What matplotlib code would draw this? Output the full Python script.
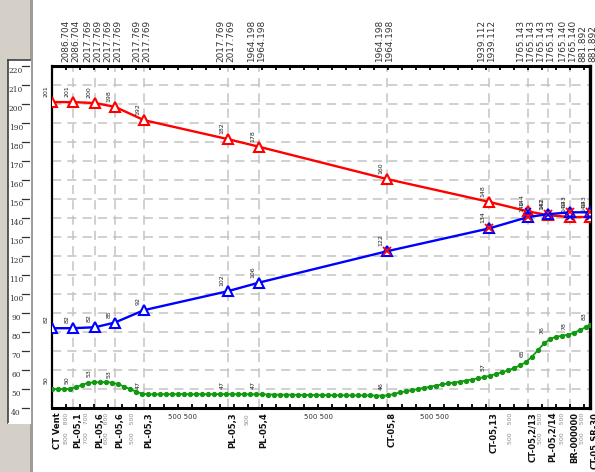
import matplotlib
matplotlib.use("Agg")
import matplotlib.pyplot as plt
import matplotlib.transforms as mtransforms
from matplotlib.ticker import MultipleLocator, NullLocator
from matplotlib.patches import Rectangle

# ---------------- data ----------------
stations_x = [0, 21, 43, 63, 92, 176, 207, 335, 437, 476, 496, 518, 538]
red_vals = [201, 201, 200.5, 198.5, 191.5, 181.5, 177.5, 160.5, 148.5, 143.5, 141.5, 140.5, 140.5]
blue_vals = [82, 82, 82.5, 85, 91.5, 101.5, 106, 122.5, 134.5, 140.5, 142, 143, 143]
green_station_labels = ["50", "50", "53", "53", "47", "47", "47", "46", "57", "65", "76", "78", "83"]

green_x = list(range(0, 535, 6)) + [538]
green_vals = [
    50.0, 50.0, 50.0, 50.1, 51.0, 52.2, 53.2, 53.5, 53.6, 53.6, 53.4, 52.6, 51.3, 49.9, 48.6, 47.6, 47.2,
    47.2, 47.2, 47.3, 47.2, 47.3, 47.3, 47.2, 47.3, 47.3, 47.2, 47.3, 47.3, 47.3, 47.3, 47.2, 47.3, 47.2,
    47.2, 47.2, 47.1, 47.1, 47.0, 47.0, 47.0, 46.9, 46.9, 46.9, 46.8, 46.8, 46.8, 46.7, 46.7, 46.7, 46.6,
    46.6, 46.6, 46.6, 46.5, 46.5,
    46.6, 47.4, 48.2, 48.8, 49.4, 50.0, 50.6, 51.2, 51.8, 52.4, 52.9, 53.4, 53.9, 54.4, 55.0, 55.6, 56.3,
    57.0, 57.9, 58.8, 59.8, 61.0, 62.4, 64.2, 67.0, 70.5, 74.0, 76.3, 77.5, 78.0, 78.6, 79.6, 81.0, 82.6,
    83.8,
]

top_labels = [
    None,
    ("2086.704", "2086.704"),
    ("2017.769", "2017.769"),
    ("2017.769", "2017.769"),
    ("2017.769", "2017.769"),
    ("2017.769", "2017.769"),
    ("1964.198", "1964.198"),
    ("1964.198", "1964.198"),
    ("1939.112", "1939.112"),
    ("1765.143", "1765.143"),
    ("1765.143", "1765.143"),
    ("1765.140", "1765.140"),
    ("881.892", "881.892"),
]
bottom_names = ["CT Vent", "PL-05,1", "PL-05,6", "PL-05,6", "PL-05,3", "PL-05,3", "PL-05,4",
                "CT-05,8", "CT-05,13", "CT-05,2/13", "PL-05,2/14", "BR-000000", "CT-05,SR-30"]
gray_labels = ["800    800", "700    700", "600    600", "500    500", "500", "500    500",
               "500    500", "500    500", "500    500"]
gray_label_x = [15, 35, 55, 81, 195, 459, 489, 511, 531]
span_label = "500 500"
ruler_values = list(range(40, 230, 10))

# ---------------- figure ----------------
W, H = 595, 472
fig = plt.figure(figsize=(W / 100, H / 100), dpi=100)
fig.patch.set_facecolor("white")

# left grey ruler strip (behind everything)
fig.patches.append(Rectangle((0, 0), 33 / W, 1, transform=fig.transFigure,
                             facecolor="#d4d0c8", edgecolor="none", zorder=-5))
fig.patches.append(Rectangle((30 / W, 0), 3 / W, 1, transform=fig.transFigure,
                             facecolor="#a09c94", edgecolor="none", zorder=-5))

axr = fig.add_axes([8 / W, 49 / H, 22 / W, 363 / H])
axr.set_zorder(3)
axr.set_facecolor("white")
axr.set_xlim(0, 1)
axr.set_ylim(32.1, 223.2)
axr.xaxis.set_major_locator(NullLocator())
axr.yaxis.set_major_locator(NullLocator())
for s in ["left", "top"]:
    axr.spines[s].set_color("#404040")
    axr.spines[s].set_linewidth(1.2)
for s in ["right", "bottom"]:
    axr.spines[s].set_color("#ffffff")
for v in ruler_values:
    axr.plot([0.64, 0.94], [v, v], color="#303030", lw=0.9)
    axr.text(0.36, v - 2.6, str(v), ha="center", va="center", fontsize=5.4,
             color="#333333", family="DejaVu Serif")

# main plot
ax = fig.add_axes([52 / W, 64 / H, 538 / W, 342 / H])
ax.set_zorder(2)
ax.set_xlim(0, 538)
ax.set_ylim(40, 220)
ax.set_facecolor("white")

grid_kw = dict(color="#c4c4c4", lw=1.1, dashes=(6, 4), zorder=1)
for v in range(50, 220, 10):
    ax.axhline(v, **grid_kw)
for x in stations_x[1:-1]:
    ax.axvline(x, **grid_kw)

ax.plot(stations_x, red_vals, color="#ff0000", lw=1.7, marker="^", ms=7,
        mfc="white", mec="#ff0000", mew=1.5, zorder=4)
ax.plot(stations_x, blue_vals, color="#0000ff", lw=1.7, marker="^", ms=7,
        mfc="white", mec="#0000ff", mew=1.5, zorder=5)
ax.plot(stations_x[7:], blue_vals[7:], ls="none", marker="x", ms=6, mec="#ff0000",
        mew=1.3, zorder=6)
ax.plot(stations_x[9:], red_vals[9:], ls="none", marker="x", ms=5, mec="#0000ff",
        mew=1.1, zorder=6)
ax.plot(green_x, green_vals, color="#119911", lw=1.3, marker="o", ms=2.8,
        mfc="#119911", mec="#119911", zorder=3)

lab_kw = dict(textcoords="offset pixels", ha="center", va="bottom", rotation=90,
              fontsize=4.5, color="#222222", zorder=7)
gvals_at_st = [green_vals[min(range(len(green_x)), key=lambda i: abs(green_x[i] - sx))]
               for sx in stations_x]
for sx, rv, bv, gl, gv in zip(stations_x, red_vals, blue_vals, green_station_labels, gvals_at_st):
    ax.annotate(f"{rv:.0f}", (sx, rv), xytext=(-6, 5), **lab_kw)
    ax.annotate(f"{bv:.0f}", (sx, bv), xytext=(-6, 5), **lab_kw)
    ax.annotate(gl, (sx, gv), xytext=(-6, 5), **lab_kw)

# spines & edge ticks
for s, lw in [("top", 2.2), ("bottom", 2.2), ("left", 1.6), ("right", 2.4)]:
    ax.spines[s].set_linewidth(lw)
    ax.spines[s].set_color("black")
ax.xaxis.set_major_locator(NullLocator())
ax.yaxis.set_major_locator(NullLocator())
ax.xaxis.set_minor_locator(MultipleLocator(14))
ax.tick_params(axis="x", which="minor", top=True, bottom=True, direction="in",
               length=3, width=1.3, color="black")

trans_top = mtransforms.blended_transform_factory(ax.transData, fig.transFigure)
for sx, pair in zip(stations_x, top_labels):
    if pair is None:
        continue
    ax.text(sx - 7, (H - 62) / H, pair[0], transform=trans_top, rotation=90,
            ha="center", va="bottom", fontsize=6.4, color="#333333")
    ax.text(sx + 3, (H - 62) / H, pair[1], transform=trans_top, rotation=90,
            ha="center", va="bottom", fontsize=6.4, color="#333333")

for sx, name in zip(stations_x, bottom_names):
    ax.text(sx + 5, (H - 412) / H, name, transform=trans_top, rotation=90,
            ha="center", va="top", fontsize=6, fontweight="bold", color="#111111")
for gx, gl in zip(gray_label_x, gray_labels):
    ax.text(gx, (H - 413) / H, gl, transform=trans_top, rotation=90,
            ha="center", va="top", fontsize=4.5, color="#8a8a8a")
for a, b in zip(stations_x[:-1], stations_x[1:]):
    if b - a > 60:
        ax.text((a + b) / 2 - 4, (H - 417) / H, span_label, transform=trans_top,
                ha="center", va="center", fontsize=5, color="#333333")

fig.savefig("out.png", dpi=100)
